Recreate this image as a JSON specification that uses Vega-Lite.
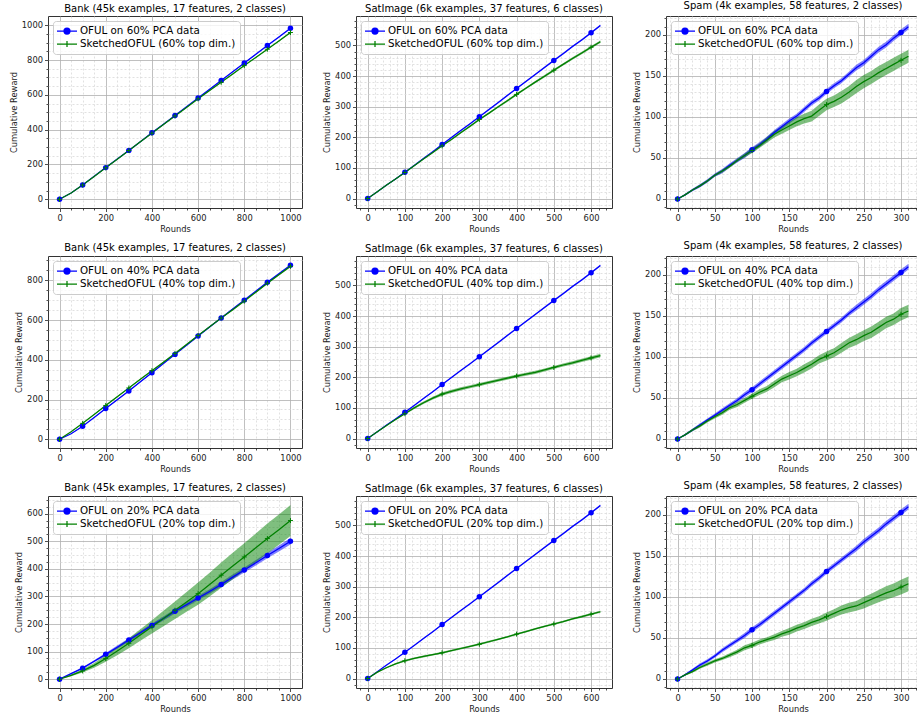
{
"$schema": "https://vega.github.io/schema/vega-lite/v6.json",
"background": "white",
"padding": {"left": 8, "top": 0, "right": 0, "bottom": 0},
"config": {
 "font": "DejaVu Sans",
 "view": {"stroke": "#333333", "strokeWidth": 1},
 "axis": {"domain": false, "labelFont": "DejaVu Sans", "labelFontSize": 8.33, "labelColor": "#222222", "tickColor": "#222222", "tickWidth": 0.8, "gridWidth": 0.8, "labelPadding": 2, "titleFont": "DejaVu Sans", "titleFontSize": 8.33, "titleFontWeight": "normal", "titleColor": "#222222", "titlePadding": 3, "labelFlush": false, "labelOverlap": false, "labelBound": false},
 "legend": {"orient": "top-left", "offset": 5, "padding": 4, "rowPadding": 1, "symbolSize": 100, "symbolOffset": 4, "labelOffset": 7, "symbolStrokeWidth": 1.25, "labelFont": "DejaVu Sans", "labelFontSize": 10.3, "labelLimit": 300, "labelColor": "#000000", "fillColor": "rgba(255,255,255,0.8)", "strokeColor": "#cccccc", "cornerRadius": 3, "strokeWidth": 1},
 "title": {"font": "DejaVu Sans", "fontSize": 10, "fontWeight": "normal", "color": "#000000", "offset": 2, "frame": "group", "anchor": "middle"}
},
"resolve": {"scale": {"color": "independent", "shape": "independent", "fill": "independent", "stroke": "independent"}, "legend": {"color": "independent", "shape": "independent"}},
"datasets": {
"bank60": [
{"round":0,"series":"OFUL","reward":0,"lo":0,"hi":0},
{"round":50,"series":"OFUL","reward":36,"lo":35,"hi":37},
{"round":100,"series":"OFUL","reward":82,"lo":80.5,"hi":83.5},
{"round":150,"series":"OFUL","reward":132,"lo":130.5,"hi":133.5},
{"round":200,"series":"OFUL","reward":182,"lo":180,"hi":184},
{"round":250,"series":"OFUL","reward":231,"lo":229,"hi":233},
{"round":300,"series":"OFUL","reward":281,"lo":279,"hi":283},
{"round":350,"series":"OFUL","reward":331,"lo":329,"hi":333},
{"round":400,"series":"OFUL","reward":382,"lo":379.5,"hi":384.5},
{"round":450,"series":"OFUL","reward":431,"lo":428.5,"hi":433.5},
{"round":500,"series":"OFUL","reward":481,"lo":478.5,"hi":483.5},
{"round":550,"series":"OFUL","reward":531,"lo":528.5,"hi":533.5},
{"round":600,"series":"OFUL","reward":582,"lo":579,"hi":585},
{"round":650,"series":"OFUL","reward":632,"lo":629,"hi":635},
{"round":700,"series":"OFUL","reward":683,"lo":680,"hi":686},
{"round":750,"series":"OFUL","reward":733,"lo":730,"hi":736},
{"round":800,"series":"OFUL","reward":783,"lo":780,"hi":786},
{"round":850,"series":"OFUL","reward":833,"lo":829.5,"hi":836.5},
{"round":900,"series":"OFUL","reward":883,"lo":879.5,"hi":886.5},
{"round":950,"series":"OFUL","reward":932,"lo":928.5,"hi":935.5},
{"round":1000,"series":"OFUL","reward":982,"lo":978,"hi":986},
{"round":0,"series":"Sketched","reward":0,"lo":0,"hi":0},
{"round":50,"series":"Sketched","reward":36,"lo":35,"hi":37},
{"round":100,"series":"Sketched","reward":82,"lo":80.5,"hi":83.5},
{"round":150,"series":"Sketched","reward":131,"lo":129.5,"hi":132.5},
{"round":200,"series":"Sketched","reward":181,"lo":179,"hi":183},
{"round":250,"series":"Sketched","reward":230,"lo":228,"hi":232},
{"round":300,"series":"Sketched","reward":280,"lo":278,"hi":282},
{"round":350,"series":"Sketched","reward":330,"lo":328,"hi":332},
{"round":400,"series":"Sketched","reward":380,"lo":377.5,"hi":382.5},
{"round":450,"series":"Sketched","reward":429,"lo":426.5,"hi":431.5},
{"round":500,"series":"Sketched","reward":479,"lo":476.5,"hi":481.5},
{"round":550,"series":"Sketched","reward":528,"lo":525.5,"hi":530.5},
{"round":600,"series":"Sketched","reward":577,"lo":574,"hi":580},
{"round":650,"series":"Sketched","reward":625,"lo":622,"hi":628},
{"round":700,"series":"Sketched","reward":672,"lo":669,"hi":675},
{"round":750,"series":"Sketched","reward":720,"lo":717,"hi":723},
{"round":800,"series":"Sketched","reward":768,"lo":765,"hi":771},
{"round":850,"series":"Sketched","reward":815,"lo":811.5,"hi":818.5},
{"round":900,"series":"Sketched","reward":862,"lo":858.5,"hi":865.5},
{"round":950,"series":"Sketched","reward":910,"lo":906.5,"hi":913.5},
{"round":1000,"series":"Sketched","reward":958,"lo":954,"hi":962}
],
"bank40": [
{"round":0,"series":"OFUL","reward":0,"lo":0,"hi":0},
{"round":50,"series":"OFUL","reward":28,"lo":27,"hi":29},
{"round":100,"series":"OFUL","reward":65,"lo":63,"hi":67},
{"round":150,"series":"OFUL","reward":110,"lo":108,"hi":112},
{"round":200,"series":"OFUL","reward":155,"lo":152,"hi":158},
{"round":250,"series":"OFUL","reward":199,"lo":196,"hi":202},
{"round":300,"series":"OFUL","reward":243,"lo":240,"hi":246},
{"round":350,"series":"OFUL","reward":289,"lo":286,"hi":292},
{"round":400,"series":"OFUL","reward":335,"lo":332,"hi":338},
{"round":450,"series":"OFUL","reward":381,"lo":378,"hi":384},
{"round":500,"series":"OFUL","reward":427,"lo":424,"hi":430},
{"round":550,"series":"OFUL","reward":473,"lo":470,"hi":476},
{"round":600,"series":"OFUL","reward":519,"lo":516,"hi":522},
{"round":650,"series":"OFUL","reward":565,"lo":562,"hi":568},
{"round":700,"series":"OFUL","reward":610,"lo":607,"hi":613},
{"round":750,"series":"OFUL","reward":655,"lo":651,"hi":659},
{"round":800,"series":"OFUL","reward":700,"lo":696,"hi":704},
{"round":850,"series":"OFUL","reward":745,"lo":741,"hi":749},
{"round":900,"series":"OFUL","reward":790,"lo":786,"hi":794},
{"round":950,"series":"OFUL","reward":833,"lo":829,"hi":837},
{"round":1000,"series":"OFUL","reward":875,"lo":871,"hi":879},
{"round":0,"series":"Sketched","reward":0,"lo":0,"hi":0},
{"round":50,"series":"Sketched","reward":38,"lo":37,"hi":39},
{"round":100,"series":"Sketched","reward":80,"lo":78,"hi":82},
{"round":150,"series":"Sketched","reward":125,"lo":123,"hi":127},
{"round":200,"series":"Sketched","reward":170,"lo":167,"hi":173},
{"round":250,"series":"Sketched","reward":214,"lo":211,"hi":217},
{"round":300,"series":"Sketched","reward":258,"lo":255,"hi":261},
{"round":350,"series":"Sketched","reward":302,"lo":299,"hi":305},
{"round":400,"series":"Sketched","reward":345,"lo":342,"hi":348},
{"round":450,"series":"Sketched","reward":388,"lo":385,"hi":391},
{"round":500,"series":"Sketched","reward":432,"lo":429,"hi":435},
{"round":550,"series":"Sketched","reward":477,"lo":474,"hi":480},
{"round":600,"series":"Sketched","reward":522,"lo":519,"hi":525},
{"round":650,"series":"Sketched","reward":566,"lo":563,"hi":569},
{"round":700,"series":"Sketched","reward":610,"lo":607,"hi":613},
{"round":750,"series":"Sketched","reward":652,"lo":648,"hi":656},
{"round":800,"series":"Sketched","reward":695,"lo":691,"hi":699},
{"round":850,"series":"Sketched","reward":740,"lo":736,"hi":744},
{"round":900,"series":"Sketched","reward":785,"lo":781,"hi":789},
{"round":950,"series":"Sketched","reward":828,"lo":824,"hi":832},
{"round":1000,"series":"Sketched","reward":870,"lo":866,"hi":874}
],
"bank20": [
{"round":0,"series":"OFUL","reward":0,"lo":0,"hi":0},
{"round":50,"series":"OFUL","reward":20,"lo":18,"hi":22},
{"round":100,"series":"OFUL","reward":40,"lo":37,"hi":43},
{"round":150,"series":"OFUL","reward":65,"lo":61,"hi":69},
{"round":200,"series":"OFUL","reward":90,"lo":85,"hi":95},
{"round":250,"series":"OFUL","reward":116,"lo":110,"hi":122},
{"round":300,"series":"OFUL","reward":142,"lo":136,"hi":148},
{"round":350,"series":"OFUL","reward":168,"lo":161,"hi":175},
{"round":400,"series":"OFUL","reward":195,"lo":188,"hi":202},
{"round":450,"series":"OFUL","reward":220,"lo":213,"hi":227},
{"round":500,"series":"OFUL","reward":246,"lo":238,"hi":254},
{"round":550,"series":"OFUL","reward":270,"lo":262,"hi":278},
{"round":600,"series":"OFUL","reward":294,"lo":286,"hi":302},
{"round":650,"series":"OFUL","reward":318,"lo":310,"hi":326},
{"round":700,"series":"OFUL","reward":343,"lo":334,"hi":352},
{"round":750,"series":"OFUL","reward":370,"lo":361,"hi":379},
{"round":800,"series":"OFUL","reward":396,"lo":387,"hi":405},
{"round":850,"series":"OFUL","reward":422,"lo":412,"hi":432},
{"round":900,"series":"OFUL","reward":448,"lo":438,"hi":458},
{"round":950,"series":"OFUL","reward":474,"lo":463,"hi":485},
{"round":1000,"series":"OFUL","reward":500,"lo":488,"hi":512},
{"round":0,"series":"Sketched","reward":0,"lo":0,"hi":0},
{"round":50,"series":"Sketched","reward":14,"lo":11,"hi":17},
{"round":100,"series":"Sketched","reward":30,"lo":24,"hi":36},
{"round":150,"series":"Sketched","reward":50,"lo":41,"hi":59},
{"round":200,"series":"Sketched","reward":75,"lo":63,"hi":87},
{"round":250,"series":"Sketched","reward":102,"lo":87,"hi":117},
{"round":300,"series":"Sketched","reward":130,"lo":112,"hi":148},
{"round":350,"series":"Sketched","reward":160,"lo":139,"hi":181},
{"round":400,"series":"Sketched","reward":190,"lo":166,"hi":214},
{"round":450,"series":"Sketched","reward":220,"lo":192,"hi":248},
{"round":500,"series":"Sketched","reward":250,"lo":218,"hi":282},
{"round":550,"series":"Sketched","reward":280,"lo":244,"hi":316},
{"round":600,"series":"Sketched","reward":310,"lo":270,"hi":350},
{"round":650,"series":"Sketched","reward":343,"lo":300,"hi":386},
{"round":700,"series":"Sketched","reward":377,"lo":331,"hi":423},
{"round":750,"series":"Sketched","reward":410,"lo":362,"hi":458},
{"round":800,"series":"Sketched","reward":443,"lo":393,"hi":493},
{"round":850,"series":"Sketched","reward":476,"lo":424,"hi":528},
{"round":900,"series":"Sketched","reward":510,"lo":456,"hi":564},
{"round":950,"series":"Sketched","reward":542,"lo":487,"hi":597},
{"round":1000,"series":"Sketched","reward":575,"lo":519,"hi":631}
],
"sat60": [
{"round":0,"series":"OFUL","reward":0,"lo":0,"hi":0},
{"round":25,"series":"OFUL","reward":21,"lo":20.5,"hi":21.5},
{"round":50,"series":"OFUL","reward":43,"lo":42,"hi":44},
{"round":75,"series":"OFUL","reward":64,"lo":63,"hi":65},
{"round":100,"series":"OFUL","reward":86,"lo":84.5,"hi":87.5},
{"round":125,"series":"OFUL","reward":108,"lo":106.5,"hi":109.5},
{"round":150,"series":"OFUL","reward":131,"lo":129,"hi":133},
{"round":175,"series":"OFUL","reward":153,"lo":151,"hi":155},
{"round":200,"series":"OFUL","reward":176,"lo":174,"hi":178},
{"round":225,"series":"OFUL","reward":199,"lo":197,"hi":201},
{"round":250,"series":"OFUL","reward":222,"lo":220,"hi":224},
{"round":275,"series":"OFUL","reward":244,"lo":242,"hi":246},
{"round":300,"series":"OFUL","reward":267,"lo":265,"hi":269},
{"round":325,"series":"OFUL","reward":290,"lo":287.5,"hi":292.5},
{"round":350,"series":"OFUL","reward":313,"lo":310.5,"hi":315.5},
{"round":375,"series":"OFUL","reward":336,"lo":333.5,"hi":338.5},
{"round":400,"series":"OFUL","reward":359,"lo":356.5,"hi":361.5},
{"round":425,"series":"OFUL","reward":382,"lo":379.5,"hi":384.5},
{"round":450,"series":"OFUL","reward":405,"lo":402.5,"hi":407.5},
{"round":475,"series":"OFUL","reward":428,"lo":425,"hi":431},
{"round":500,"series":"OFUL","reward":451,"lo":448,"hi":454},
{"round":525,"series":"OFUL","reward":473,"lo":470,"hi":476},
{"round":550,"series":"OFUL","reward":496,"lo":493,"hi":499},
{"round":575,"series":"OFUL","reward":518,"lo":515,"hi":521},
{"round":600,"series":"OFUL","reward":541,"lo":538,"hi":544},
{"round":625,"series":"OFUL","reward":565,"lo":562,"hi":568},
{"round":0,"series":"Sketched","reward":0,"lo":0,"hi":0},
{"round":25,"series":"Sketched","reward":21,"lo":20,"hi":22},
{"round":50,"series":"Sketched","reward":43,"lo":42,"hi":44},
{"round":75,"series":"Sketched","reward":64,"lo":62.5,"hi":65.5},
{"round":100,"series":"Sketched","reward":85,"lo":83,"hi":87},
{"round":125,"series":"Sketched","reward":107,"lo":105,"hi":109},
{"round":150,"series":"Sketched","reward":129,"lo":127,"hi":131},
{"round":175,"series":"Sketched","reward":150,"lo":147.5,"hi":152.5},
{"round":200,"series":"Sketched","reward":172,"lo":169.5,"hi":174.5},
{"round":225,"series":"Sketched","reward":193,"lo":190.5,"hi":195.5},
{"round":250,"series":"Sketched","reward":215,"lo":212,"hi":218},
{"round":275,"series":"Sketched","reward":236,"lo":233,"hi":239},
{"round":300,"series":"Sketched","reward":258,"lo":255,"hi":261},
{"round":325,"series":"Sketched","reward":278,"lo":275,"hi":281},
{"round":350,"series":"Sketched","reward":299,"lo":296,"hi":302},
{"round":375,"series":"Sketched","reward":319,"lo":315.5,"hi":322.5},
{"round":400,"series":"Sketched","reward":340,"lo":336.5,"hi":343.5},
{"round":425,"series":"Sketched","reward":360,"lo":356.5,"hi":363.5},
{"round":450,"series":"Sketched","reward":380,"lo":376.5,"hi":383.5},
{"round":475,"series":"Sketched","reward":399,"lo":395,"hi":403},
{"round":500,"series":"Sketched","reward":419,"lo":415,"hi":423},
{"round":525,"series":"Sketched","reward":438,"lo":434,"hi":442},
{"round":550,"series":"Sketched","reward":457,"lo":453,"hi":461},
{"round":575,"series":"Sketched","reward":475,"lo":471,"hi":479},
{"round":600,"series":"Sketched","reward":494,"lo":490,"hi":498},
{"round":625,"series":"Sketched","reward":512,"lo":508,"hi":516}
],
"sat40": [
{"round":0,"series":"OFUL","reward":0,"lo":0,"hi":0},
{"round":25,"series":"OFUL","reward":21,"lo":20.5,"hi":21.5},
{"round":50,"series":"OFUL","reward":43,"lo":42,"hi":44},
{"round":75,"series":"OFUL","reward":64,"lo":63,"hi":65},
{"round":100,"series":"OFUL","reward":86,"lo":84.5,"hi":87.5},
{"round":125,"series":"OFUL","reward":108,"lo":106.5,"hi":109.5},
{"round":150,"series":"OFUL","reward":131,"lo":129,"hi":133},
{"round":175,"series":"OFUL","reward":153,"lo":151,"hi":155},
{"round":200,"series":"OFUL","reward":176,"lo":174,"hi":178},
{"round":225,"series":"OFUL","reward":199,"lo":197,"hi":201},
{"round":250,"series":"OFUL","reward":222,"lo":220,"hi":224},
{"round":275,"series":"OFUL","reward":244,"lo":242,"hi":246},
{"round":300,"series":"OFUL","reward":267,"lo":265,"hi":269},
{"round":325,"series":"OFUL","reward":290,"lo":287.5,"hi":292.5},
{"round":350,"series":"OFUL","reward":313,"lo":310.5,"hi":315.5},
{"round":375,"series":"OFUL","reward":336,"lo":333.5,"hi":338.5},
{"round":400,"series":"OFUL","reward":359,"lo":356.5,"hi":361.5},
{"round":425,"series":"OFUL","reward":382,"lo":379.5,"hi":384.5},
{"round":450,"series":"OFUL","reward":405,"lo":402.5,"hi":407.5},
{"round":475,"series":"OFUL","reward":428,"lo":425,"hi":431},
{"round":500,"series":"OFUL","reward":451,"lo":448,"hi":454},
{"round":525,"series":"OFUL","reward":473,"lo":470,"hi":476},
{"round":550,"series":"OFUL","reward":496,"lo":493,"hi":499},
{"round":575,"series":"OFUL","reward":518,"lo":515,"hi":521},
{"round":600,"series":"OFUL","reward":541,"lo":538,"hi":544},
{"round":625,"series":"OFUL","reward":565,"lo":562,"hi":568},
{"round":0,"series":"Sketched","reward":0,"lo":0,"hi":0},
{"round":25,"series":"Sketched","reward":21,"lo":20,"hi":22},
{"round":50,"series":"Sketched","reward":42,"lo":40.5,"hi":43.5},
{"round":75,"series":"Sketched","reward":62,"lo":60,"hi":64},
{"round":100,"series":"Sketched","reward":81,"lo":78,"hi":84},
{"round":125,"series":"Sketched","reward":100,"lo":96.5,"hi":103.5},
{"round":150,"series":"Sketched","reward":117,"lo":113,"hi":121},
{"round":175,"series":"Sketched","reward":132,"lo":127.5,"hi":136.5},
{"round":200,"series":"Sketched","reward":145,"lo":140,"hi":150},
{"round":225,"series":"Sketched","reward":154,"lo":149,"hi":159},
{"round":250,"series":"Sketched","reward":162,"lo":157,"hi":167},
{"round":275,"series":"Sketched","reward":169,"lo":164,"hi":174},
{"round":300,"series":"Sketched","reward":176,"lo":171,"hi":181},
{"round":325,"series":"Sketched","reward":183,"lo":178,"hi":188},
{"round":350,"series":"Sketched","reward":190,"lo":185,"hi":195},
{"round":375,"series":"Sketched","reward":197,"lo":192,"hi":202},
{"round":400,"series":"Sketched","reward":204,"lo":199,"hi":209},
{"round":425,"series":"Sketched","reward":210,"lo":205,"hi":215},
{"round":450,"series":"Sketched","reward":216,"lo":211,"hi":221},
{"round":475,"series":"Sketched","reward":224,"lo":219,"hi":229},
{"round":500,"series":"Sketched","reward":232,"lo":227,"hi":237},
{"round":525,"series":"Sketched","reward":240,"lo":235,"hi":245},
{"round":550,"series":"Sketched","reward":247,"lo":242,"hi":252},
{"round":575,"series":"Sketched","reward":255,"lo":249.5,"hi":260.5},
{"round":600,"series":"Sketched","reward":263,"lo":257.5,"hi":268.5},
{"round":625,"series":"Sketched","reward":271,"lo":265.5,"hi":276.5}
],
"sat20": [
{"round":0,"series":"OFUL","reward":0,"lo":0,"hi":0},
{"round":25,"series":"OFUL","reward":21,"lo":20.5,"hi":21.5},
{"round":50,"series":"OFUL","reward":43,"lo":42,"hi":44},
{"round":75,"series":"OFUL","reward":64,"lo":63,"hi":65},
{"round":100,"series":"OFUL","reward":86,"lo":84.5,"hi":87.5},
{"round":125,"series":"OFUL","reward":108,"lo":106.5,"hi":109.5},
{"round":150,"series":"OFUL","reward":131,"lo":129,"hi":133},
{"round":175,"series":"OFUL","reward":153,"lo":151,"hi":155},
{"round":200,"series":"OFUL","reward":176,"lo":174,"hi":178},
{"round":225,"series":"OFUL","reward":199,"lo":197,"hi":201},
{"round":250,"series":"OFUL","reward":222,"lo":220,"hi":224},
{"round":275,"series":"OFUL","reward":244,"lo":242,"hi":246},
{"round":300,"series":"OFUL","reward":267,"lo":265,"hi":269},
{"round":325,"series":"OFUL","reward":290,"lo":287.5,"hi":292.5},
{"round":350,"series":"OFUL","reward":313,"lo":310.5,"hi":315.5},
{"round":375,"series":"OFUL","reward":336,"lo":333.5,"hi":338.5},
{"round":400,"series":"OFUL","reward":359,"lo":356.5,"hi":361.5},
{"round":425,"series":"OFUL","reward":382,"lo":379.5,"hi":384.5},
{"round":450,"series":"OFUL","reward":405,"lo":402.5,"hi":407.5},
{"round":475,"series":"OFUL","reward":428,"lo":425,"hi":431},
{"round":500,"series":"OFUL","reward":451,"lo":448,"hi":454},
{"round":525,"series":"OFUL","reward":473,"lo":470,"hi":476},
{"round":550,"series":"OFUL","reward":496,"lo":493,"hi":499},
{"round":575,"series":"OFUL","reward":518,"lo":515,"hi":521},
{"round":600,"series":"OFUL","reward":541,"lo":538,"hi":544},
{"round":625,"series":"OFUL","reward":565,"lo":562,"hi":568},
{"round":0,"series":"Sketched","reward":0,"lo":0,"hi":0},
{"round":25,"series":"Sketched","reward":20,"lo":19,"hi":21},
{"round":50,"series":"Sketched","reward":35,"lo":33,"hi":37},
{"round":75,"series":"Sketched","reward":48,"lo":45.5,"hi":50.5},
{"round":100,"series":"Sketched","reward":58,"lo":55,"hi":61},
{"round":125,"series":"Sketched","reward":66,"lo":63,"hi":69},
{"round":150,"series":"Sketched","reward":72,"lo":69,"hi":75},
{"round":175,"series":"Sketched","reward":78,"lo":75,"hi":81},
{"round":200,"series":"Sketched","reward":84,"lo":81,"hi":87},
{"round":225,"series":"Sketched","reward":91,"lo":88,"hi":94},
{"round":250,"series":"Sketched","reward":98,"lo":95,"hi":101},
{"round":275,"series":"Sketched","reward":105,"lo":102,"hi":108},
{"round":300,"series":"Sketched","reward":112,"lo":109,"hi":115},
{"round":325,"series":"Sketched","reward":120,"lo":117,"hi":123},
{"round":350,"series":"Sketched","reward":128,"lo":125,"hi":131},
{"round":375,"series":"Sketched","reward":136,"lo":133,"hi":139},
{"round":400,"series":"Sketched","reward":145,"lo":142,"hi":148},
{"round":425,"series":"Sketched","reward":153,"lo":150,"hi":156},
{"round":450,"series":"Sketched","reward":162,"lo":159,"hi":165},
{"round":475,"series":"Sketched","reward":170,"lo":167,"hi":173},
{"round":500,"series":"Sketched","reward":178,"lo":175,"hi":181},
{"round":525,"series":"Sketched","reward":186,"lo":183,"hi":189},
{"round":550,"series":"Sketched","reward":195,"lo":192,"hi":198},
{"round":575,"series":"Sketched","reward":202,"lo":198.5,"hi":205.5},
{"round":600,"series":"Sketched","reward":210,"lo":206.5,"hi":213.5},
{"round":625,"series":"Sketched","reward":218,"lo":214.5,"hi":221.5}
],
"spam60": [
{"round":0,"series":"OFUL","reward":0,"lo":0,"hi":0},
{"round":10,"series":"OFUL","reward":5,"lo":4,"hi":6},
{"round":20,"series":"OFUL","reward":11,"lo":9.5,"hi":12.5},
{"round":30,"series":"OFUL","reward":16,"lo":14,"hi":18},
{"round":40,"series":"OFUL","reward":22,"lo":20,"hi":24},
{"round":50,"series":"OFUL","reward":29,"lo":27,"hi":31},
{"round":60,"series":"OFUL","reward":34,"lo":31.5,"hi":36.5},
{"round":70,"series":"OFUL","reward":41,"lo":38.5,"hi":43.5},
{"round":80,"series":"OFUL","reward":47,"lo":44.5,"hi":49.5},
{"round":90,"series":"OFUL","reward":53,"lo":50,"hi":56},
{"round":100,"series":"OFUL","reward":60,"lo":57,"hi":63},
{"round":110,"series":"OFUL","reward":66,"lo":63,"hi":69},
{"round":120,"series":"OFUL","reward":73,"lo":70,"hi":76},
{"round":130,"series":"OFUL","reward":81,"lo":78,"hi":84},
{"round":140,"series":"OFUL","reward":88,"lo":85,"hi":91},
{"round":150,"series":"OFUL","reward":95,"lo":92,"hi":98},
{"round":160,"series":"OFUL","reward":101,"lo":98,"hi":104},
{"round":170,"series":"OFUL","reward":109,"lo":106,"hi":112},
{"round":180,"series":"OFUL","reward":117,"lo":114,"hi":120},
{"round":190,"series":"OFUL","reward":123,"lo":120,"hi":126},
{"round":200,"series":"OFUL","reward":131,"lo":128,"hi":134},
{"round":210,"series":"OFUL","reward":138,"lo":135,"hi":141},
{"round":220,"series":"OFUL","reward":144,"lo":141,"hi":147},
{"round":230,"series":"OFUL","reward":152,"lo":149,"hi":155},
{"round":240,"series":"OFUL","reward":160,"lo":156.5,"hi":163.5},
{"round":250,"series":"OFUL","reward":166,"lo":162.5,"hi":169.5},
{"round":260,"series":"OFUL","reward":174,"lo":170.5,"hi":177.5},
{"round":270,"series":"OFUL","reward":182,"lo":178.5,"hi":185.5},
{"round":280,"series":"OFUL","reward":188,"lo":184.5,"hi":191.5},
{"round":290,"series":"OFUL","reward":196,"lo":192.5,"hi":199.5},
{"round":300,"series":"OFUL","reward":203,"lo":199.5,"hi":206.5},
{"round":310,"series":"OFUL","reward":210,"lo":206.5,"hi":213.5},
{"round":0,"series":"Sketched","reward":0,"lo":0,"hi":0},
{"round":10,"series":"Sketched","reward":5,"lo":4,"hi":6},
{"round":20,"series":"Sketched","reward":11,"lo":10,"hi":12},
{"round":30,"series":"Sketched","reward":16,"lo":14.5,"hi":17.5},
{"round":40,"series":"Sketched","reward":22,"lo":20.5,"hi":23.5},
{"round":50,"series":"Sketched","reward":29,"lo":27.5,"hi":30.5},
{"round":60,"series":"Sketched","reward":34,"lo":32,"hi":36},
{"round":70,"series":"Sketched","reward":40,"lo":38,"hi":42},
{"round":80,"series":"Sketched","reward":47,"lo":45,"hi":49},
{"round":90,"series":"Sketched","reward":53,"lo":50.5,"hi":55.5},
{"round":100,"series":"Sketched","reward":59,"lo":56,"hi":62},
{"round":110,"series":"Sketched","reward":65,"lo":62,"hi":68},
{"round":120,"series":"Sketched","reward":72,"lo":68.5,"hi":75.5},
{"round":130,"series":"Sketched","reward":79,"lo":75,"hi":83},
{"round":140,"series":"Sketched","reward":84,"lo":79.5,"hi":88.5},
{"round":150,"series":"Sketched","reward":89,"lo":84,"hi":94},
{"round":160,"series":"Sketched","reward":94,"lo":88.5,"hi":99.5},
{"round":170,"series":"Sketched","reward":98,"lo":92,"hi":104},
{"round":180,"series":"Sketched","reward":101,"lo":94.5,"hi":107.5},
{"round":190,"series":"Sketched","reward":108,"lo":101,"hi":115},
{"round":200,"series":"Sketched","reward":115,"lo":108,"hi":122},
{"round":210,"series":"Sketched","reward":119,"lo":112,"hi":126},
{"round":220,"series":"Sketched","reward":124,"lo":116.5,"hi":131.5},
{"round":230,"series":"Sketched","reward":130,"lo":122.5,"hi":137.5},
{"round":240,"series":"Sketched","reward":137,"lo":129,"hi":145},
{"round":250,"series":"Sketched","reward":143,"lo":135,"hi":151},
{"round":260,"series":"Sketched","reward":148,"lo":140,"hi":156},
{"round":270,"series":"Sketched","reward":154,"lo":146,"hi":162},
{"round":280,"series":"Sketched","reward":159,"lo":151,"hi":167},
{"round":290,"series":"Sketched","reward":164,"lo":156,"hi":172},
{"round":300,"series":"Sketched","reward":169,"lo":161,"hi":177},
{"round":310,"series":"Sketched","reward":174,"lo":166,"hi":182}
],
"spam40": [
{"round":0,"series":"OFUL","reward":0,"lo":0,"hi":0},
{"round":10,"series":"OFUL","reward":5,"lo":4,"hi":6},
{"round":20,"series":"OFUL","reward":11,"lo":9.5,"hi":12.5},
{"round":30,"series":"OFUL","reward":17,"lo":15,"hi":19},
{"round":40,"series":"OFUL","reward":23,"lo":21,"hi":25},
{"round":50,"series":"OFUL","reward":29,"lo":27,"hi":31},
{"round":60,"series":"OFUL","reward":35,"lo":32.5,"hi":37.5},
{"round":70,"series":"OFUL","reward":41,"lo":38.5,"hi":43.5},
{"round":80,"series":"OFUL","reward":47,"lo":44.5,"hi":49.5},
{"round":90,"series":"OFUL","reward":54,"lo":51,"hi":57},
{"round":100,"series":"OFUL","reward":60,"lo":57,"hi":63},
{"round":110,"series":"OFUL","reward":67,"lo":64,"hi":70},
{"round":120,"series":"OFUL","reward":74,"lo":71,"hi":77},
{"round":130,"series":"OFUL","reward":81,"lo":78,"hi":84},
{"round":140,"series":"OFUL","reward":88,"lo":85,"hi":91},
{"round":150,"series":"OFUL","reward":95,"lo":92,"hi":98},
{"round":160,"series":"OFUL","reward":102,"lo":99,"hi":105},
{"round":170,"series":"OFUL","reward":109,"lo":106,"hi":112},
{"round":180,"series":"OFUL","reward":117,"lo":114,"hi":120},
{"round":190,"series":"OFUL","reward":124,"lo":121,"hi":127},
{"round":200,"series":"OFUL","reward":131,"lo":128,"hi":134},
{"round":210,"series":"OFUL","reward":138,"lo":135,"hi":141},
{"round":220,"series":"OFUL","reward":145,"lo":142,"hi":148},
{"round":230,"series":"OFUL","reward":153,"lo":150,"hi":156},
{"round":240,"series":"OFUL","reward":160,"lo":156.5,"hi":163.5},
{"round":250,"series":"OFUL","reward":167,"lo":163.5,"hi":170.5},
{"round":260,"series":"OFUL","reward":174,"lo":170.5,"hi":177.5},
{"round":270,"series":"OFUL","reward":182,"lo":178.5,"hi":185.5},
{"round":280,"series":"OFUL","reward":189,"lo":185.5,"hi":192.5},
{"round":290,"series":"OFUL","reward":196,"lo":192.5,"hi":199.5},
{"round":300,"series":"OFUL","reward":203,"lo":199.5,"hi":206.5},
{"round":310,"series":"OFUL","reward":210,"lo":206.5,"hi":213.5},
{"round":0,"series":"Sketched","reward":0,"lo":0,"hi":0},
{"round":10,"series":"Sketched","reward":5,"lo":4,"hi":6},
{"round":20,"series":"Sketched","reward":11,"lo":9.5,"hi":12.5},
{"round":30,"series":"Sketched","reward":16,"lo":14,"hi":18},
{"round":40,"series":"Sketched","reward":22,"lo":20,"hi":24},
{"round":50,"series":"Sketched","reward":27,"lo":25,"hi":29},
{"round":60,"series":"Sketched","reward":32,"lo":29.5,"hi":34.5},
{"round":70,"series":"Sketched","reward":38,"lo":35.5,"hi":40.5},
{"round":80,"series":"Sketched","reward":42,"lo":39,"hi":45},
{"round":90,"series":"Sketched","reward":47,"lo":44,"hi":50},
{"round":100,"series":"Sketched","reward":52,"lo":49,"hi":55},
{"round":110,"series":"Sketched","reward":57,"lo":53.5,"hi":60.5},
{"round":120,"series":"Sketched","reward":61,"lo":57.5,"hi":64.5},
{"round":130,"series":"Sketched","reward":67,"lo":63,"hi":71},
{"round":140,"series":"Sketched","reward":73,"lo":69,"hi":77},
{"round":150,"series":"Sketched","reward":77,"lo":72.5,"hi":81.5},
{"round":160,"series":"Sketched","reward":81,"lo":76.5,"hi":85.5},
{"round":170,"series":"Sketched","reward":86,"lo":81,"hi":91},
{"round":180,"series":"Sketched","reward":91,"lo":86,"hi":96},
{"round":190,"series":"Sketched","reward":97,"lo":92,"hi":102},
{"round":200,"series":"Sketched","reward":101,"lo":95.5,"hi":106.5},
{"round":210,"series":"Sketched","reward":105,"lo":99.5,"hi":110.5},
{"round":220,"series":"Sketched","reward":111,"lo":105,"hi":117},
{"round":230,"series":"Sketched","reward":117,"lo":111,"hi":123},
{"round":240,"series":"Sketched","reward":121,"lo":114.5,"hi":127.5},
{"round":250,"series":"Sketched","reward":126,"lo":119.5,"hi":132.5},
{"round":260,"series":"Sketched","reward":130,"lo":123,"hi":137},
{"round":270,"series":"Sketched","reward":136,"lo":129,"hi":143},
{"round":280,"series":"Sketched","reward":142,"lo":135,"hi":149},
{"round":290,"series":"Sketched","reward":146,"lo":139,"hi":153},
{"round":300,"series":"Sketched","reward":152,"lo":144.5,"hi":159.5},
{"round":310,"series":"Sketched","reward":156,"lo":148.5,"hi":163.5}
],
"spam20": [
{"round":0,"series":"OFUL","reward":0,"lo":0,"hi":0},
{"round":10,"series":"OFUL","reward":5,"lo":4,"hi":6},
{"round":20,"series":"OFUL","reward":11,"lo":9.5,"hi":12.5},
{"round":30,"series":"OFUL","reward":17,"lo":15,"hi":19},
{"round":40,"series":"OFUL","reward":22,"lo":20,"hi":24},
{"round":50,"series":"OFUL","reward":28,"lo":26,"hi":30},
{"round":60,"series":"OFUL","reward":35,"lo":32.5,"hi":37.5},
{"round":70,"series":"OFUL","reward":41,"lo":38.5,"hi":43.5},
{"round":80,"series":"OFUL","reward":47,"lo":44.5,"hi":49.5},
{"round":90,"series":"OFUL","reward":53,"lo":50,"hi":56},
{"round":100,"series":"OFUL","reward":60,"lo":57,"hi":63},
{"round":110,"series":"OFUL","reward":66,"lo":63,"hi":69},
{"round":120,"series":"OFUL","reward":73,"lo":70,"hi":76},
{"round":130,"series":"OFUL","reward":80,"lo":77,"hi":83},
{"round":140,"series":"OFUL","reward":87,"lo":84,"hi":90},
{"round":150,"series":"OFUL","reward":94,"lo":91,"hi":97},
{"round":160,"series":"OFUL","reward":101,"lo":98,"hi":104},
{"round":170,"series":"OFUL","reward":108,"lo":105,"hi":111},
{"round":180,"series":"OFUL","reward":116,"lo":113,"hi":119},
{"round":190,"series":"OFUL","reward":123,"lo":120,"hi":126},
{"round":200,"series":"OFUL","reward":131,"lo":128,"hi":134},
{"round":210,"series":"OFUL","reward":138,"lo":135,"hi":141},
{"round":220,"series":"OFUL","reward":145,"lo":142,"hi":148},
{"round":230,"series":"OFUL","reward":152,"lo":149,"hi":155},
{"round":240,"series":"OFUL","reward":159,"lo":155.5,"hi":162.5},
{"round":250,"series":"OFUL","reward":167,"lo":163.5,"hi":170.5},
{"round":260,"series":"OFUL","reward":174,"lo":170.5,"hi":177.5},
{"round":270,"series":"OFUL","reward":181,"lo":177.5,"hi":184.5},
{"round":280,"series":"OFUL","reward":189,"lo":185.5,"hi":192.5},
{"round":290,"series":"OFUL","reward":196,"lo":192.5,"hi":199.5},
{"round":300,"series":"OFUL","reward":203,"lo":199.5,"hi":206.5},
{"round":310,"series":"OFUL","reward":210,"lo":206.5,"hi":213.5},
{"round":0,"series":"Sketched","reward":0,"lo":0,"hi":0},
{"round":10,"series":"Sketched","reward":5,"lo":4,"hi":6},
{"round":20,"series":"Sketched","reward":9,"lo":7.5,"hi":10.5},
{"round":30,"series":"Sketched","reward":14,"lo":12.5,"hi":15.5},
{"round":40,"series":"Sketched","reward":18,"lo":16,"hi":20},
{"round":50,"series":"Sketched","reward":22,"lo":20,"hi":24},
{"round":60,"series":"Sketched","reward":25,"lo":23,"hi":27},
{"round":70,"series":"Sketched","reward":29,"lo":26.5,"hi":31.5},
{"round":80,"series":"Sketched","reward":33,"lo":30.5,"hi":35.5},
{"round":90,"series":"Sketched","reward":38,"lo":35,"hi":41},
{"round":100,"series":"Sketched","reward":41,"lo":38,"hi":44},
{"round":110,"series":"Sketched","reward":45,"lo":42,"hi":48},
{"round":120,"series":"Sketched","reward":48,"lo":45,"hi":51},
{"round":130,"series":"Sketched","reward":51,"lo":47.5,"hi":54.5},
{"round":140,"series":"Sketched","reward":55,"lo":51.5,"hi":58.5},
{"round":150,"series":"Sketched","reward":58,"lo":54,"hi":62},
{"round":160,"series":"Sketched","reward":62,"lo":58,"hi":66},
{"round":170,"series":"Sketched","reward":65,"lo":61,"hi":69},
{"round":180,"series":"Sketched","reward":69,"lo":64.5,"hi":73.5},
{"round":190,"series":"Sketched","reward":72,"lo":67.5,"hi":76.5},
{"round":200,"series":"Sketched","reward":76,"lo":71,"hi":81},
{"round":210,"series":"Sketched","reward":80,"lo":75,"hi":85},
{"round":220,"series":"Sketched","reward":84,"lo":78.5,"hi":89.5},
{"round":230,"series":"Sketched","reward":87,"lo":81,"hi":93},
{"round":240,"series":"Sketched","reward":89,"lo":83,"hi":95},
{"round":250,"series":"Sketched","reward":93,"lo":86,"hi":100},
{"round":260,"series":"Sketched","reward":97,"lo":90,"hi":104},
{"round":270,"series":"Sketched","reward":101,"lo":93.5,"hi":108.5},
{"round":280,"series":"Sketched","reward":105,"lo":97,"hi":113},
{"round":290,"series":"Sketched","reward":108,"lo":99.5,"hi":116.5},
{"round":300,"series":"Sketched","reward":112,"lo":103,"hi":121},
{"round":310,"series":"Sketched","reward":116,"lo":107,"hi":125}
]
},
"columns": 3,
"spacing": {"row": 48, "column": 54},
"bounds": "flush",
"concat": [
  {"width": 254, "height": 192, "title": "Bank (45k examples, 17 features, 2 classes)", "data": {"name": "bank60"},
   "encoding": {
    "x": {"field": "round", "type": "quantitative", "title": "Rounds", "scale": {"domain": [-50, 1050], "nice": false, "zero": false},
     "axis": {"format": "d", "values": [0,50,100,150,200,250,300,350,400,450,500,550,600,650,700,750,800,850,900,950,1000], "labelExpr": "datum.value % 200 === 0 ? datum.label : ''", "tickSize": {"condition": {"test": "datum.value % 200 === 0", "value": 3.5}, "value": 2}, "gridDash": {"condition": {"test": "datum.value % 200 === 0", "value": []}, "value": [2, 2]}, "gridColor": {"condition": {"test": "datum.value % 200 === 0", "value": "#b0b0b0"}, "value": "#d9d9d9"}}},
    "y": {"field": "reward", "type": "quantitative", "title": "Cumulative Reward", "scale": {"domain": [-50, 1053], "nice": false, "zero": false},
     "axis": {"format": "d", "values": [0,50,100,150,200,250,300,350,400,450,500,550,600,650,700,750,800,850,900,950,1000], "labelExpr": "datum.value % 200 === 0 ? datum.label : ''", "tickSize": {"condition": {"test": "datum.value % 200 === 0", "value": 3.5}, "value": 2}, "gridDash": {"condition": {"test": "datum.value % 200 === 0", "value": []}, "value": [2, 2]}, "gridColor": {"condition": {"test": "datum.value % 200 === 0", "value": "#b0b0b0"}, "value": "#d9d9d9"}}}
   },
   "layer": [
    {"mark": {"type": "area", "opacity": 0.5}, "encoding": {"y": {"field": "lo", "type": "quantitative", "title": "Cumulative Reward", "scale": {"domain": [-50, 1053], "nice": false, "zero": false}}, "y2": {"field": "hi"}, "fill": {"field": "series", "type": "nominal", "scale": {"domain": ["Sketched", "OFUL"], "range": ["#008000", "#0000ff"]}, "legend": null}}},
    {"mark": {"type": "line", "strokeWidth": 1.25}, "encoding": {"stroke": {"field": "series", "type": "nominal", "scale": {"domain": ["Sketched", "OFUL"], "range": ["#008000", "#0000ff"]}, "legend": null}}},
    {"transform": [{"filter": "datum.series === 'OFUL' && datum.round % 100 === 0"}], "mark": {"type": "point", "shape": "circle", "filled": true, "size": 30, "color": "#0000ff", "opacity": 1}},
    {"transform": [{"filter": "datum.series === 'Sketched' && datum.round % 100 === 0"}], "mark": {"type": "point", "shape": "M-1,0H1M0,-1V1", "filled": false, "size": 25, "color": "#008000", "strokeWidth": 1, "opacity": 1}},
    {"transform": [{"filter": "false"}], "mark": {"type": "point", "filled": false, "opacity": 1, "strokeWidth": 1.25},
     "encoding": {
      "color": {"field": "series", "type": "nominal", "scale": {"domain": ["OFUL", "Sketched"], "range": ["#0000ff", "#008000"]}, "legend": {"title": null, "labelFont": "DejaVu Sans", "labelFontSize": 10.3, "labelExpr": "datum.value === 'OFUL' ? 'OFUL on 60% PCA data' : 'SketchedOFUL (60% top dim.)'"}},
      "shape": {"field": "series", "type": "nominal", "scale": {"domain": ["OFUL", "Sketched"], "range": ["M-2,0H2M-0.6,0A0.6,0.6,0,1,0,0.6,0A0.6,0.6,0,1,0,-0.6,0M-0.36,0A0.36,0.36,0,1,0,0.36,0A0.36,0.36,0,1,0,-0.36,0M-0.12,0A0.12,0.12,0,1,0,0.12,0A0.12,0.12,0,1,0,-0.12,0", "M-2,0H2M0,-0.6V0.6"]}, "legend": {"title": null, "labelFont": "DejaVu Sans", "labelFontSize": 10.3}}
     }}
   ]},
  {"width": 256, "height": 192, "title": "SatImage (6k examples, 37 features, 6 classes)", "data": {"name": "sat60"},
   "encoding": {
    "x": {"field": "round", "type": "quantitative", "title": "Rounds", "scale": {"domain": [-31.25, 656.25], "nice": false, "zero": false},
     "axis": {"format": "d", "values": [-20,0,20,40,60,80,100,120,140,160,180,200,220,240,260,280,300,320,340,360,380,400,420,440,460,480,500,520,540,560,580,600,620,640], "labelExpr": "datum.value % 100 === 0 ? datum.label : ''", "tickSize": {"condition": {"test": "datum.value % 100 === 0", "value": 3.5}, "value": 2}, "gridDash": {"condition": {"test": "datum.value % 100 === 0", "value": []}, "value": [2, 2]}, "gridColor": {"condition": {"test": "datum.value % 100 === 0", "value": "#b0b0b0"}, "value": "#d9d9d9"}}},
    "y": {"field": "reward", "type": "quantitative", "title": "Cumulative Reward", "scale": {"domain": [-31, 596], "nice": false, "zero": false},
     "axis": {"format": "d", "values": [-20,0,20,40,60,80,100,120,140,160,180,200,220,240,260,280,300,320,340,360,380,400,420,440,460,480,500,520,540,560,580], "labelExpr": "datum.value % 100 === 0 ? datum.label : ''", "tickSize": {"condition": {"test": "datum.value % 100 === 0", "value": 3.5}, "value": 2}, "gridDash": {"condition": {"test": "datum.value % 100 === 0", "value": []}, "value": [2, 2]}, "gridColor": {"condition": {"test": "datum.value % 100 === 0", "value": "#b0b0b0"}, "value": "#d9d9d9"}}}
   },
   "layer": [
    {"mark": {"type": "area", "opacity": 0.5}, "encoding": {"y": {"field": "lo", "type": "quantitative", "title": "Cumulative Reward", "scale": {"domain": [-31, 596], "nice": false, "zero": false}}, "y2": {"field": "hi"}, "fill": {"field": "series", "type": "nominal", "scale": {"domain": ["Sketched", "OFUL"], "range": ["#008000", "#0000ff"]}, "legend": null}}},
    {"mark": {"type": "line", "strokeWidth": 1.25}, "encoding": {"stroke": {"field": "series", "type": "nominal", "scale": {"domain": ["Sketched", "OFUL"], "range": ["#008000", "#0000ff"]}, "legend": null}}},
    {"transform": [{"filter": "datum.series === 'OFUL' && datum.round % 100 === 0"}], "mark": {"type": "point", "shape": "circle", "filled": true, "size": 30, "color": "#0000ff", "opacity": 1}},
    {"transform": [{"filter": "datum.series === 'Sketched' && datum.round % 100 === 0"}], "mark": {"type": "point", "shape": "M-1,0H1M0,-1V1", "filled": false, "size": 25, "color": "#008000", "strokeWidth": 1, "opacity": 1}},
    {"transform": [{"filter": "false"}], "mark": {"type": "point", "filled": false, "opacity": 1, "strokeWidth": 1.25},
     "encoding": {
      "color": {"field": "series", "type": "nominal", "scale": {"domain": ["OFUL", "Sketched"], "range": ["#0000ff", "#008000"]}, "legend": {"title": null, "labelFont": "DejaVu Sans", "labelFontSize": 10.3, "labelExpr": "datum.value === 'OFUL' ? 'OFUL on 60% PCA data' : 'SketchedOFUL (60% top dim.)'"}},
      "shape": {"field": "series", "type": "nominal", "scale": {"domain": ["OFUL", "Sketched"], "range": ["M-2,0H2M-0.6,0A0.6,0.6,0,1,0,0.6,0A0.6,0.6,0,1,0,-0.6,0M-0.36,0A0.36,0.36,0,1,0,0.36,0A0.36,0.36,0,1,0,-0.36,0M-0.12,0A0.12,0.12,0,1,0,0.12,0A0.12,0.12,0,1,0,-0.12,0", "M-2,0H2M0,-0.6V0.6"]}, "legend": {"title": null, "labelFont": "DejaVu Sans", "labelFontSize": 10.3}}
     }}
   ]},
  {"width": 254, "height": 192, "title": "Spam (4k examples, 58 features, 2 classes)", "data": {"name": "spam60"},
   "encoding": {
    "x": {"field": "round", "type": "quantitative", "title": "Rounds", "scale": {"domain": [-15.5, 325.5], "nice": false, "zero": false},
     "axis": {"format": "d", "values": [-10,0,10,20,30,40,50,60,70,80,90,100,110,120,130,140,150,160,170,180,190,200,210,220,230,240,250,260,270,280,290,300,310,320], "labelExpr": "datum.value % 50 === 0 ? datum.label : ''", "tickSize": {"condition": {"test": "datum.value % 50 === 0", "value": 3.5}, "value": 2}, "gridDash": {"condition": {"test": "datum.value % 50 === 0", "value": []}, "value": [2, 2]}, "gridColor": {"condition": {"test": "datum.value % 50 === 0", "value": "#b0b0b0"}, "value": "#d9d9d9"}}},
    "y": {"field": "reward", "type": "quantitative", "title": "Cumulative Reward", "scale": {"domain": [-11, 223], "nice": false, "zero": false},
     "axis": {"format": "d", "values": [-10,0,10,20,30,40,50,60,70,80,90,100,110,120,130,140,150,160,170,180,190,200,210,220], "labelExpr": "datum.value % 50 === 0 ? datum.label : ''", "tickSize": {"condition": {"test": "datum.value % 50 === 0", "value": 3.5}, "value": 2}, "gridDash": {"condition": {"test": "datum.value % 50 === 0", "value": []}, "value": [2, 2]}, "gridColor": {"condition": {"test": "datum.value % 50 === 0", "value": "#b0b0b0"}, "value": "#d9d9d9"}}}
   },
   "layer": [
    {"mark": {"type": "area", "opacity": 0.5}, "encoding": {"y": {"field": "lo", "type": "quantitative", "title": "Cumulative Reward", "scale": {"domain": [-11, 223], "nice": false, "zero": false}}, "y2": {"field": "hi"}, "fill": {"field": "series", "type": "nominal", "scale": {"domain": ["Sketched", "OFUL"], "range": ["#008000", "#0000ff"]}, "legend": null}}},
    {"mark": {"type": "line", "strokeWidth": 1.25}, "encoding": {"stroke": {"field": "series", "type": "nominal", "scale": {"domain": ["Sketched", "OFUL"], "range": ["#008000", "#0000ff"]}, "legend": null}}},
    {"transform": [{"filter": "datum.series === 'OFUL' && datum.round % 100 === 0"}], "mark": {"type": "point", "shape": "circle", "filled": true, "size": 30, "color": "#0000ff", "opacity": 1}},
    {"transform": [{"filter": "datum.series === 'Sketched' && datum.round % 100 === 0"}], "mark": {"type": "point", "shape": "M-1,0H1M0,-1V1", "filled": false, "size": 25, "color": "#008000", "strokeWidth": 1, "opacity": 1}},
    {"transform": [{"filter": "false"}], "mark": {"type": "point", "filled": false, "opacity": 1, "strokeWidth": 1.25},
     "encoding": {
      "color": {"field": "series", "type": "nominal", "scale": {"domain": ["OFUL", "Sketched"], "range": ["#0000ff", "#008000"]}, "legend": {"title": null, "labelFont": "DejaVu Sans", "labelFontSize": 10.3, "labelExpr": "datum.value === 'OFUL' ? 'OFUL on 60% PCA data' : 'SketchedOFUL (60% top dim.)'"}},
      "shape": {"field": "series", "type": "nominal", "scale": {"domain": ["OFUL", "Sketched"], "range": ["M-2,0H2M-0.6,0A0.6,0.6,0,1,0,0.6,0A0.6,0.6,0,1,0,-0.6,0M-0.36,0A0.36,0.36,0,1,0,0.36,0A0.36,0.36,0,1,0,-0.36,0M-0.12,0A0.12,0.12,0,1,0,0.12,0A0.12,0.12,0,1,0,-0.12,0", "M-2,0H2M0,-0.6V0.6"]}, "legend": {"title": null, "labelFont": "DejaVu Sans", "labelFontSize": 10.3}}
     }}
   ]},
  {"width": 254, "height": 192, "title": "Bank (45k examples, 17 features, 2 classes)", "data": {"name": "bank40"},
   "encoding": {
    "x": {"field": "round", "type": "quantitative", "title": "Rounds", "scale": {"domain": [-50, 1050], "nice": false, "zero": false},
     "axis": {"format": "d", "values": [0,50,100,150,200,250,300,350,400,450,500,550,600,650,700,750,800,850,900,950,1000], "labelExpr": "datum.value % 200 === 0 ? datum.label : ''", "tickSize": {"condition": {"test": "datum.value % 200 === 0", "value": 3.5}, "value": 2}, "gridDash": {"condition": {"test": "datum.value % 200 === 0", "value": []}, "value": [2, 2]}, "gridColor": {"condition": {"test": "datum.value % 200 === 0", "value": "#b0b0b0"}, "value": "#d9d9d9"}}},
    "y": {"field": "reward", "type": "quantitative", "title": "Cumulative Reward", "scale": {"domain": [-44, 922], "nice": false, "zero": false},
     "axis": {"format": "d", "values": [0,50,100,150,200,250,300,350,400,450,500,550,600,650,700,750,800,850,900], "labelExpr": "datum.value % 200 === 0 ? datum.label : ''", "tickSize": {"condition": {"test": "datum.value % 200 === 0", "value": 3.5}, "value": 2}, "gridDash": {"condition": {"test": "datum.value % 200 === 0", "value": []}, "value": [2, 2]}, "gridColor": {"condition": {"test": "datum.value % 200 === 0", "value": "#b0b0b0"}, "value": "#d9d9d9"}}}
   },
   "layer": [
    {"mark": {"type": "area", "opacity": 0.5}, "encoding": {"y": {"field": "lo", "type": "quantitative", "title": "Cumulative Reward", "scale": {"domain": [-44, 922], "nice": false, "zero": false}}, "y2": {"field": "hi"}, "fill": {"field": "series", "type": "nominal", "scale": {"domain": ["Sketched", "OFUL"], "range": ["#008000", "#0000ff"]}, "legend": null}}},
    {"mark": {"type": "line", "strokeWidth": 1.25}, "encoding": {"stroke": {"field": "series", "type": "nominal", "scale": {"domain": ["Sketched", "OFUL"], "range": ["#008000", "#0000ff"]}, "legend": null}}},
    {"transform": [{"filter": "datum.series === 'OFUL' && datum.round % 100 === 0"}], "mark": {"type": "point", "shape": "circle", "filled": true, "size": 30, "color": "#0000ff", "opacity": 1}},
    {"transform": [{"filter": "datum.series === 'Sketched' && datum.round % 100 === 0"}], "mark": {"type": "point", "shape": "M-1,0H1M0,-1V1", "filled": false, "size": 25, "color": "#008000", "strokeWidth": 1, "opacity": 1}},
    {"transform": [{"filter": "false"}], "mark": {"type": "point", "filled": false, "opacity": 1, "strokeWidth": 1.25},
     "encoding": {
      "color": {"field": "series", "type": "nominal", "scale": {"domain": ["OFUL", "Sketched"], "range": ["#0000ff", "#008000"]}, "legend": {"title": null, "labelFont": "DejaVu Sans", "labelFontSize": 10.3, "labelExpr": "datum.value === 'OFUL' ? 'OFUL on 40% PCA data' : 'SketchedOFUL (40% top dim.)'"}},
      "shape": {"field": "series", "type": "nominal", "scale": {"domain": ["OFUL", "Sketched"], "range": ["M-2,0H2M-0.6,0A0.6,0.6,0,1,0,0.6,0A0.6,0.6,0,1,0,-0.6,0M-0.36,0A0.36,0.36,0,1,0,0.36,0A0.36,0.36,0,1,0,-0.36,0M-0.12,0A0.12,0.12,0,1,0,0.12,0A0.12,0.12,0,1,0,-0.12,0", "M-2,0H2M0,-0.6V0.6"]}, "legend": {"title": null, "labelFont": "DejaVu Sans", "labelFontSize": 10.3}}
     }}
   ]},
  {"width": 256, "height": 192, "title": "SatImage (6k examples, 37 features, 6 classes)", "data": {"name": "sat40"},
   "encoding": {
    "x": {"field": "round", "type": "quantitative", "title": "Rounds", "scale": {"domain": [-31.25, 656.25], "nice": false, "zero": false},
     "axis": {"format": "d", "values": [-20,0,20,40,60,80,100,120,140,160,180,200,220,240,260,280,300,320,340,360,380,400,420,440,460,480,500,520,540,560,580,600,620,640], "labelExpr": "datum.value % 100 === 0 ? datum.label : ''", "tickSize": {"condition": {"test": "datum.value % 100 === 0", "value": 3.5}, "value": 2}, "gridDash": {"condition": {"test": "datum.value % 100 === 0", "value": []}, "value": [2, 2]}, "gridColor": {"condition": {"test": "datum.value % 100 === 0", "value": "#b0b0b0"}, "value": "#d9d9d9"}}},
    "y": {"field": "reward", "type": "quantitative", "title": "Cumulative Reward", "scale": {"domain": [-31, 596], "nice": false, "zero": false},
     "axis": {"format": "d", "values": [-20,0,20,40,60,80,100,120,140,160,180,200,220,240,260,280,300,320,340,360,380,400,420,440,460,480,500,520,540,560,580], "labelExpr": "datum.value % 100 === 0 ? datum.label : ''", "tickSize": {"condition": {"test": "datum.value % 100 === 0", "value": 3.5}, "value": 2}, "gridDash": {"condition": {"test": "datum.value % 100 === 0", "value": []}, "value": [2, 2]}, "gridColor": {"condition": {"test": "datum.value % 100 === 0", "value": "#b0b0b0"}, "value": "#d9d9d9"}}}
   },
   "layer": [
    {"mark": {"type": "area", "opacity": 0.5}, "encoding": {"y": {"field": "lo", "type": "quantitative", "title": "Cumulative Reward", "scale": {"domain": [-31, 596], "nice": false, "zero": false}}, "y2": {"field": "hi"}, "fill": {"field": "series", "type": "nominal", "scale": {"domain": ["Sketched", "OFUL"], "range": ["#008000", "#0000ff"]}, "legend": null}}},
    {"mark": {"type": "line", "strokeWidth": 1.25}, "encoding": {"stroke": {"field": "series", "type": "nominal", "scale": {"domain": ["Sketched", "OFUL"], "range": ["#008000", "#0000ff"]}, "legend": null}}},
    {"transform": [{"filter": "datum.series === 'OFUL' && datum.round % 100 === 0"}], "mark": {"type": "point", "shape": "circle", "filled": true, "size": 30, "color": "#0000ff", "opacity": 1}},
    {"transform": [{"filter": "datum.series === 'Sketched' && datum.round % 100 === 0"}], "mark": {"type": "point", "shape": "M-1,0H1M0,-1V1", "filled": false, "size": 25, "color": "#008000", "strokeWidth": 1, "opacity": 1}},
    {"transform": [{"filter": "false"}], "mark": {"type": "point", "filled": false, "opacity": 1, "strokeWidth": 1.25},
     "encoding": {
      "color": {"field": "series", "type": "nominal", "scale": {"domain": ["OFUL", "Sketched"], "range": ["#0000ff", "#008000"]}, "legend": {"title": null, "labelFont": "DejaVu Sans", "labelFontSize": 10.3, "labelExpr": "datum.value === 'OFUL' ? 'OFUL on 40% PCA data' : 'SketchedOFUL (40% top dim.)'"}},
      "shape": {"field": "series", "type": "nominal", "scale": {"domain": ["OFUL", "Sketched"], "range": ["M-2,0H2M-0.6,0A0.6,0.6,0,1,0,0.6,0A0.6,0.6,0,1,0,-0.6,0M-0.36,0A0.36,0.36,0,1,0,0.36,0A0.36,0.36,0,1,0,-0.36,0M-0.12,0A0.12,0.12,0,1,0,0.12,0A0.12,0.12,0,1,0,-0.12,0", "M-2,0H2M0,-0.6V0.6"]}, "legend": {"title": null, "labelFont": "DejaVu Sans", "labelFontSize": 10.3}}
     }}
   ]},
  {"width": 254, "height": 192, "title": "Spam (4k examples, 58 features, 2 classes)", "data": {"name": "spam40"},
   "encoding": {
    "x": {"field": "round", "type": "quantitative", "title": "Rounds", "scale": {"domain": [-15.5, 325.5], "nice": false, "zero": false},
     "axis": {"format": "d", "values": [-10,0,10,20,30,40,50,60,70,80,90,100,110,120,130,140,150,160,170,180,190,200,210,220,230,240,250,260,270,280,290,300,310,320], "labelExpr": "datum.value % 50 === 0 ? datum.label : ''", "tickSize": {"condition": {"test": "datum.value % 50 === 0", "value": 3.5}, "value": 2}, "gridDash": {"condition": {"test": "datum.value % 50 === 0", "value": []}, "value": [2, 2]}, "gridColor": {"condition": {"test": "datum.value % 50 === 0", "value": "#b0b0b0"}, "value": "#d9d9d9"}}},
    "y": {"field": "reward", "type": "quantitative", "title": "Cumulative Reward", "scale": {"domain": [-11, 223], "nice": false, "zero": false},
     "axis": {"format": "d", "values": [-10,0,10,20,30,40,50,60,70,80,90,100,110,120,130,140,150,160,170,180,190,200,210,220], "labelExpr": "datum.value % 50 === 0 ? datum.label : ''", "tickSize": {"condition": {"test": "datum.value % 50 === 0", "value": 3.5}, "value": 2}, "gridDash": {"condition": {"test": "datum.value % 50 === 0", "value": []}, "value": [2, 2]}, "gridColor": {"condition": {"test": "datum.value % 50 === 0", "value": "#b0b0b0"}, "value": "#d9d9d9"}}}
   },
   "layer": [
    {"mark": {"type": "area", "opacity": 0.5}, "encoding": {"y": {"field": "lo", "type": "quantitative", "title": "Cumulative Reward", "scale": {"domain": [-11, 223], "nice": false, "zero": false}}, "y2": {"field": "hi"}, "fill": {"field": "series", "type": "nominal", "scale": {"domain": ["Sketched", "OFUL"], "range": ["#008000", "#0000ff"]}, "legend": null}}},
    {"mark": {"type": "line", "strokeWidth": 1.25}, "encoding": {"stroke": {"field": "series", "type": "nominal", "scale": {"domain": ["Sketched", "OFUL"], "range": ["#008000", "#0000ff"]}, "legend": null}}},
    {"transform": [{"filter": "datum.series === 'OFUL' && datum.round % 100 === 0"}], "mark": {"type": "point", "shape": "circle", "filled": true, "size": 30, "color": "#0000ff", "opacity": 1}},
    {"transform": [{"filter": "datum.series === 'Sketched' && datum.round % 100 === 0"}], "mark": {"type": "point", "shape": "M-1,0H1M0,-1V1", "filled": false, "size": 25, "color": "#008000", "strokeWidth": 1, "opacity": 1}},
    {"transform": [{"filter": "false"}], "mark": {"type": "point", "filled": false, "opacity": 1, "strokeWidth": 1.25},
     "encoding": {
      "color": {"field": "series", "type": "nominal", "scale": {"domain": ["OFUL", "Sketched"], "range": ["#0000ff", "#008000"]}, "legend": {"title": null, "labelFont": "DejaVu Sans", "labelFontSize": 10.3, "labelExpr": "datum.value === 'OFUL' ? 'OFUL on 40% PCA data' : 'SketchedOFUL (40% top dim.)'"}},
      "shape": {"field": "series", "type": "nominal", "scale": {"domain": ["OFUL", "Sketched"], "range": ["M-2,0H2M-0.6,0A0.6,0.6,0,1,0,0.6,0A0.6,0.6,0,1,0,-0.6,0M-0.36,0A0.36,0.36,0,1,0,0.36,0A0.36,0.36,0,1,0,-0.36,0M-0.12,0A0.12,0.12,0,1,0,0.12,0A0.12,0.12,0,1,0,-0.12,0", "M-2,0H2M0,-0.6V0.6"]}, "legend": {"title": null, "labelFont": "DejaVu Sans", "labelFontSize": 10.3}}
     }}
   ]},
  {"width": 254, "height": 192, "title": "Bank (45k examples, 17 features, 2 classes)", "data": {"name": "bank20"},
   "encoding": {
    "x": {"field": "round", "type": "quantitative", "title": "Rounds", "scale": {"domain": [-50, 1050], "nice": false, "zero": false},
     "axis": {"format": "d", "values": [0,50,100,150,200,250,300,350,400,450,500,550,600,650,700,750,800,850,900,950,1000], "labelExpr": "datum.value % 200 === 0 ? datum.label : ''", "tickSize": {"condition": {"test": "datum.value % 200 === 0", "value": 3.5}, "value": 2}, "gridDash": {"condition": {"test": "datum.value % 200 === 0", "value": []}, "value": [2, 2]}, "gridColor": {"condition": {"test": "datum.value % 200 === 0", "value": "#b0b0b0"}, "value": "#d9d9d9"}}},
    "y": {"field": "reward", "type": "quantitative", "title": "Cumulative Reward", "scale": {"domain": [-32, 664], "nice": false, "zero": false},
     "axis": {"format": "d", "values": [0,25,50,75,100,125,150,175,200,225,250,275,300,325,350,375,400,425,450,475,500,525,550,575,600,625,650], "labelExpr": "datum.value % 100 === 0 ? datum.label : ''", "tickSize": {"condition": {"test": "datum.value % 100 === 0", "value": 3.5}, "value": 2}, "gridDash": {"condition": {"test": "datum.value % 100 === 0", "value": []}, "value": [2, 2]}, "gridColor": {"condition": {"test": "datum.value % 100 === 0", "value": "#b0b0b0"}, "value": "#d9d9d9"}}}
   },
   "layer": [
    {"mark": {"type": "area", "opacity": 0.5}, "encoding": {"y": {"field": "lo", "type": "quantitative", "title": "Cumulative Reward", "scale": {"domain": [-32, 664], "nice": false, "zero": false}}, "y2": {"field": "hi"}, "fill": {"field": "series", "type": "nominal", "scale": {"domain": ["Sketched", "OFUL"], "range": ["#008000", "#0000ff"]}, "legend": null}}},
    {"mark": {"type": "line", "strokeWidth": 1.25}, "encoding": {"stroke": {"field": "series", "type": "nominal", "scale": {"domain": ["Sketched", "OFUL"], "range": ["#008000", "#0000ff"]}, "legend": null}}},
    {"transform": [{"filter": "datum.series === 'OFUL' && datum.round % 100 === 0"}], "mark": {"type": "point", "shape": "circle", "filled": true, "size": 30, "color": "#0000ff", "opacity": 1}},
    {"transform": [{"filter": "datum.series === 'Sketched' && datum.round % 100 === 0"}], "mark": {"type": "point", "shape": "M-1,0H1M0,-1V1", "filled": false, "size": 25, "color": "#008000", "strokeWidth": 1, "opacity": 1}},
    {"transform": [{"filter": "false"}], "mark": {"type": "point", "filled": false, "opacity": 1, "strokeWidth": 1.25},
     "encoding": {
      "color": {"field": "series", "type": "nominal", "scale": {"domain": ["OFUL", "Sketched"], "range": ["#0000ff", "#008000"]}, "legend": {"title": null, "labelFont": "DejaVu Sans", "labelFontSize": 10.3, "labelExpr": "datum.value === 'OFUL' ? 'OFUL on 20% PCA data' : 'SketchedOFUL (20% top dim.)'"}},
      "shape": {"field": "series", "type": "nominal", "scale": {"domain": ["OFUL", "Sketched"], "range": ["M-2,0H2M-0.6,0A0.6,0.6,0,1,0,0.6,0A0.6,0.6,0,1,0,-0.6,0M-0.36,0A0.36,0.36,0,1,0,0.36,0A0.36,0.36,0,1,0,-0.36,0M-0.12,0A0.12,0.12,0,1,0,0.12,0A0.12,0.12,0,1,0,-0.12,0", "M-2,0H2M0,-0.6V0.6"]}, "legend": {"title": null, "labelFont": "DejaVu Sans", "labelFontSize": 10.3}}
     }}
   ]},
  {"width": 256, "height": 192, "title": "SatImage (6k examples, 37 features, 6 classes)", "data": {"name": "sat20"},
   "encoding": {
    "x": {"field": "round", "type": "quantitative", "title": "Rounds", "scale": {"domain": [-31.25, 656.25], "nice": false, "zero": false},
     "axis": {"format": "d", "values": [-20,0,20,40,60,80,100,120,140,160,180,200,220,240,260,280,300,320,340,360,380,400,420,440,460,480,500,520,540,560,580,600,620,640], "labelExpr": "datum.value % 100 === 0 ? datum.label : ''", "tickSize": {"condition": {"test": "datum.value % 100 === 0", "value": 3.5}, "value": 2}, "gridDash": {"condition": {"test": "datum.value % 100 === 0", "value": []}, "value": [2, 2]}, "gridColor": {"condition": {"test": "datum.value % 100 === 0", "value": "#b0b0b0"}, "value": "#d9d9d9"}}},
    "y": {"field": "reward", "type": "quantitative", "title": "Cumulative Reward", "scale": {"domain": [-31, 596], "nice": false, "zero": false},
     "axis": {"format": "d", "values": [-20,0,20,40,60,80,100,120,140,160,180,200,220,240,260,280,300,320,340,360,380,400,420,440,460,480,500,520,540,560,580], "labelExpr": "datum.value % 100 === 0 ? datum.label : ''", "tickSize": {"condition": {"test": "datum.value % 100 === 0", "value": 3.5}, "value": 2}, "gridDash": {"condition": {"test": "datum.value % 100 === 0", "value": []}, "value": [2, 2]}, "gridColor": {"condition": {"test": "datum.value % 100 === 0", "value": "#b0b0b0"}, "value": "#d9d9d9"}}}
   },
   "layer": [
    {"mark": {"type": "area", "opacity": 0.5}, "encoding": {"y": {"field": "lo", "type": "quantitative", "title": "Cumulative Reward", "scale": {"domain": [-31, 596], "nice": false, "zero": false}}, "y2": {"field": "hi"}, "fill": {"field": "series", "type": "nominal", "scale": {"domain": ["Sketched", "OFUL"], "range": ["#008000", "#0000ff"]}, "legend": null}}},
    {"mark": {"type": "line", "strokeWidth": 1.25}, "encoding": {"stroke": {"field": "series", "type": "nominal", "scale": {"domain": ["Sketched", "OFUL"], "range": ["#008000", "#0000ff"]}, "legend": null}}},
    {"transform": [{"filter": "datum.series === 'OFUL' && datum.round % 100 === 0"}], "mark": {"type": "point", "shape": "circle", "filled": true, "size": 30, "color": "#0000ff", "opacity": 1}},
    {"transform": [{"filter": "datum.series === 'Sketched' && datum.round % 100 === 0"}], "mark": {"type": "point", "shape": "M-1,0H1M0,-1V1", "filled": false, "size": 25, "color": "#008000", "strokeWidth": 1, "opacity": 1}},
    {"transform": [{"filter": "false"}], "mark": {"type": "point", "filled": false, "opacity": 1, "strokeWidth": 1.25},
     "encoding": {
      "color": {"field": "series", "type": "nominal", "scale": {"domain": ["OFUL", "Sketched"], "range": ["#0000ff", "#008000"]}, "legend": {"title": null, "labelFont": "DejaVu Sans", "labelFontSize": 10.3, "labelExpr": "datum.value === 'OFUL' ? 'OFUL on 20% PCA data' : 'SketchedOFUL (20% top dim.)'"}},
      "shape": {"field": "series", "type": "nominal", "scale": {"domain": ["OFUL", "Sketched"], "range": ["M-2,0H2M-0.6,0A0.6,0.6,0,1,0,0.6,0A0.6,0.6,0,1,0,-0.6,0M-0.36,0A0.36,0.36,0,1,0,0.36,0A0.36,0.36,0,1,0,-0.36,0M-0.12,0A0.12,0.12,0,1,0,0.12,0A0.12,0.12,0,1,0,-0.12,0", "M-2,0H2M0,-0.6V0.6"]}, "legend": {"title": null, "labelFont": "DejaVu Sans", "labelFontSize": 10.3}}
     }}
   ]},
  {"width": 254, "height": 192, "title": "Spam (4k examples, 58 features, 2 classes)", "data": {"name": "spam20"},
   "encoding": {
    "x": {"field": "round", "type": "quantitative", "title": "Rounds", "scale": {"domain": [-15.5, 325.5], "nice": false, "zero": false},
     "axis": {"format": "d", "values": [-10,0,10,20,30,40,50,60,70,80,90,100,110,120,130,140,150,160,170,180,190,200,210,220,230,240,250,260,270,280,290,300,310,320], "labelExpr": "datum.value % 50 === 0 ? datum.label : ''", "tickSize": {"condition": {"test": "datum.value % 50 === 0", "value": 3.5}, "value": 2}, "gridDash": {"condition": {"test": "datum.value % 50 === 0", "value": []}, "value": [2, 2]}, "gridColor": {"condition": {"test": "datum.value % 50 === 0", "value": "#b0b0b0"}, "value": "#d9d9d9"}}},
    "y": {"field": "reward", "type": "quantitative", "title": "Cumulative Reward", "scale": {"domain": [-11, 223], "nice": false, "zero": false},
     "axis": {"format": "d", "values": [-10,0,10,20,30,40,50,60,70,80,90,100,110,120,130,140,150,160,170,180,190,200,210,220], "labelExpr": "datum.value % 50 === 0 ? datum.label : ''", "tickSize": {"condition": {"test": "datum.value % 50 === 0", "value": 3.5}, "value": 2}, "gridDash": {"condition": {"test": "datum.value % 50 === 0", "value": []}, "value": [2, 2]}, "gridColor": {"condition": {"test": "datum.value % 50 === 0", "value": "#b0b0b0"}, "value": "#d9d9d9"}}}
   },
   "layer": [
    {"mark": {"type": "area", "opacity": 0.5}, "encoding": {"y": {"field": "lo", "type": "quantitative", "title": "Cumulative Reward", "scale": {"domain": [-11, 223], "nice": false, "zero": false}}, "y2": {"field": "hi"}, "fill": {"field": "series", "type": "nominal", "scale": {"domain": ["Sketched", "OFUL"], "range": ["#008000", "#0000ff"]}, "legend": null}}},
    {"mark": {"type": "line", "strokeWidth": 1.25}, "encoding": {"stroke": {"field": "series", "type": "nominal", "scale": {"domain": ["Sketched", "OFUL"], "range": ["#008000", "#0000ff"]}, "legend": null}}},
    {"transform": [{"filter": "datum.series === 'OFUL' && datum.round % 100 === 0"}], "mark": {"type": "point", "shape": "circle", "filled": true, "size": 30, "color": "#0000ff", "opacity": 1}},
    {"transform": [{"filter": "datum.series === 'Sketched' && datum.round % 100 === 0"}], "mark": {"type": "point", "shape": "M-1,0H1M0,-1V1", "filled": false, "size": 25, "color": "#008000", "strokeWidth": 1, "opacity": 1}},
    {"transform": [{"filter": "false"}], "mark": {"type": "point", "filled": false, "opacity": 1, "strokeWidth": 1.25},
     "encoding": {
      "color": {"field": "series", "type": "nominal", "scale": {"domain": ["OFUL", "Sketched"], "range": ["#0000ff", "#008000"]}, "legend": {"title": null, "labelFont": "DejaVu Sans", "labelFontSize": 10.3, "labelExpr": "datum.value === 'OFUL' ? 'OFUL on 20% PCA data' : 'SketchedOFUL (20% top dim.)'"}},
      "shape": {"field": "series", "type": "nominal", "scale": {"domain": ["OFUL", "Sketched"], "range": ["M-2,0H2M-0.6,0A0.6,0.6,0,1,0,0.6,0A0.6,0.6,0,1,0,-0.6,0M-0.36,0A0.36,0.36,0,1,0,0.36,0A0.36,0.36,0,1,0,-0.36,0M-0.12,0A0.12,0.12,0,1,0,0.12,0A0.12,0.12,0,1,0,-0.12,0", "M-2,0H2M0,-0.6V0.6"]}, "legend": {"title": null, "labelFont": "DejaVu Sans", "labelFontSize": 10.3}}
     }}
   ]}
]
}
